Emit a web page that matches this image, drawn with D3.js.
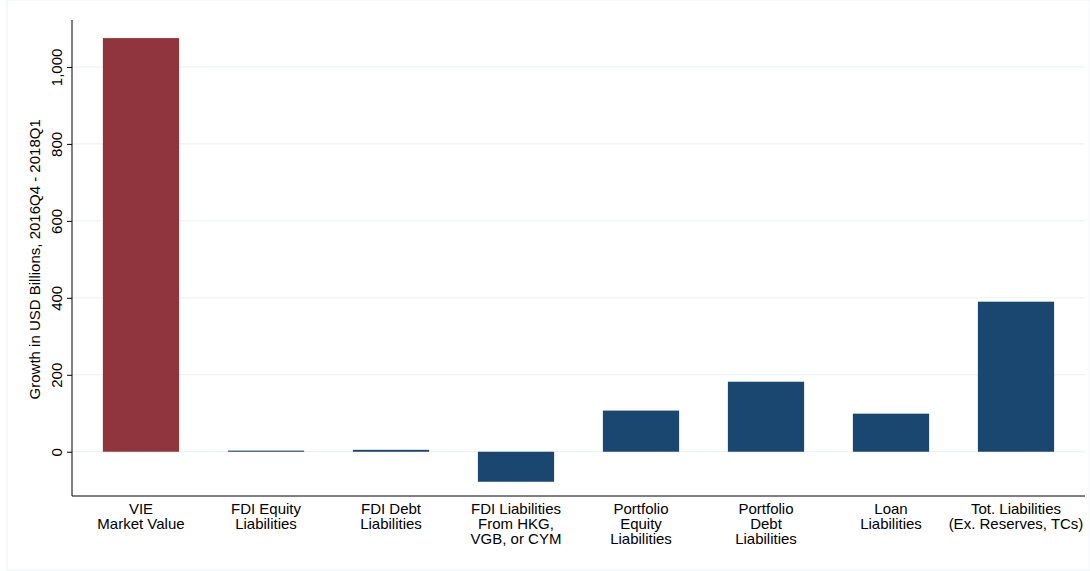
<!DOCTYPE html>
<html><head><meta charset="utf-8">
<script src="https://cdn.jsdelivr.net/npm/d3@7"></script>
<style>body{margin:0;background:#fff;font-family:"Liberation Sans",Arial,sans-serif;}</style>
</head><body><div id="chart"></div>
<script>
// categories (lines of the x labels) and growth values
var categories = [
  ["VIE", "Market Value"],
  ["FDI Equity", "Liabilities"],
  ["FDI Debt", "Liabilities"],
  ["FDI Liabilities", "From HKG,", "VGB, or CYM"],
  ["Portfolio", "Equity", "Liabilities"],
  ["Portfolio", "Debt", "Liabilities"],
  ["Loan", "Liabilities"],
  ["Tot. Liabilities", "(Ex. Reserves, TCs)"]
];
var values = [1075, 3, 5, -78, 107, 182, 99, 390];
var yTicks = [0, 200, 400, 600, 800, 1000];

var W = 1090, H = 571;
var margin = {top: 20, right: 5, bottom: 75, left: 72};
var width = W - margin.left - margin.right,
    height = H - margin.top - margin.bottom;

var svg = d3.select("#chart").append("svg").attr("width", W).attr("height", H);

// faint outer frame
svg.append("rect").attr("x", 7).attr("y", 0).attr("width", W - 7).attr("height", H - 1)
  .attr("fill", "none").attr("stroke", "#eef3f5");

var g = svg.append("g").attr("transform", "translate(" + margin.left + "," + margin.top + ")");

var x = d3.scaleBand().domain(d3.range(categories.length))
  .range([6.5, 1006.5]).paddingInner(0.39).paddingOuter(0.195);
var y = d3.scaleLinear().domain([-115, 1122]).range([height, 0]);

// gridlines
g.selectAll(".grid").data(yTicks).enter().append("line")
  .attr("x1", 0).attr("x2", width).attr("y1", d => y(d)).attr("y2", d => y(d))
  .attr("stroke", "#eaf0f3");

g.selectAll(".bar").data(values).enter().append("rect")
  .attr("x", (d, i) => x(i)).attr("width", x.bandwidth())
  .attr("y", d => y(Math.max(0, d)))
  .attr("height", d => Math.max(1, Math.abs(y(d) - y(0))))
  .attr("fill", (d, i) => i === 0 ? "#90353d" : "#1a476f");

// y axis
var yAxis = g.append("g").call(d3.axisLeft(y).tickValues(yTicks).tickSize(5).tickFormat(d3.format(",")));
yAxis.select(".domain").attr("d", "M0," + height + "V0").attr("stroke", "#000");
yAxis.selectAll(".tick line").attr("stroke", "#000");
yAxis.selectAll(".tick text").attr("transform", "rotate(-90)")
  .attr("x", 0).attr("y", -10).attr("dy", 0).attr("text-anchor", "middle")
  .style("font-size", "15px").style("fill", "#000").style("font-family", "Liberation Sans, Arial, sans-serif");

// x axis line
g.append("line").attr("x1", 0).attr("x2", width).attr("y1", height).attr("y2", height)
  .attr("stroke", "#000");

// x labels
categories.forEach(function(lines, i) {
  var t = g.append("text").attr("x", x(i) + x.bandwidth() / 2).attr("y", height + 18)
    .attr("text-anchor", "middle").style("font-size", "15px");
  lines.forEach(function(l, j) {
    t.append("tspan").attr("x", x(i) + x.bandwidth() / 2).attr("dy", j === 0 ? 0 : 15).text(l);
  });
});

svg.append("text").attr("transform", "translate(40," + (margin.top + y(500)) + ") rotate(-90)")
  .attr("text-anchor", "middle").style("font-size", "15px")
  .text("Growth in USD Billions, 2016Q4 - 2018Q1");
</script></body></html>
